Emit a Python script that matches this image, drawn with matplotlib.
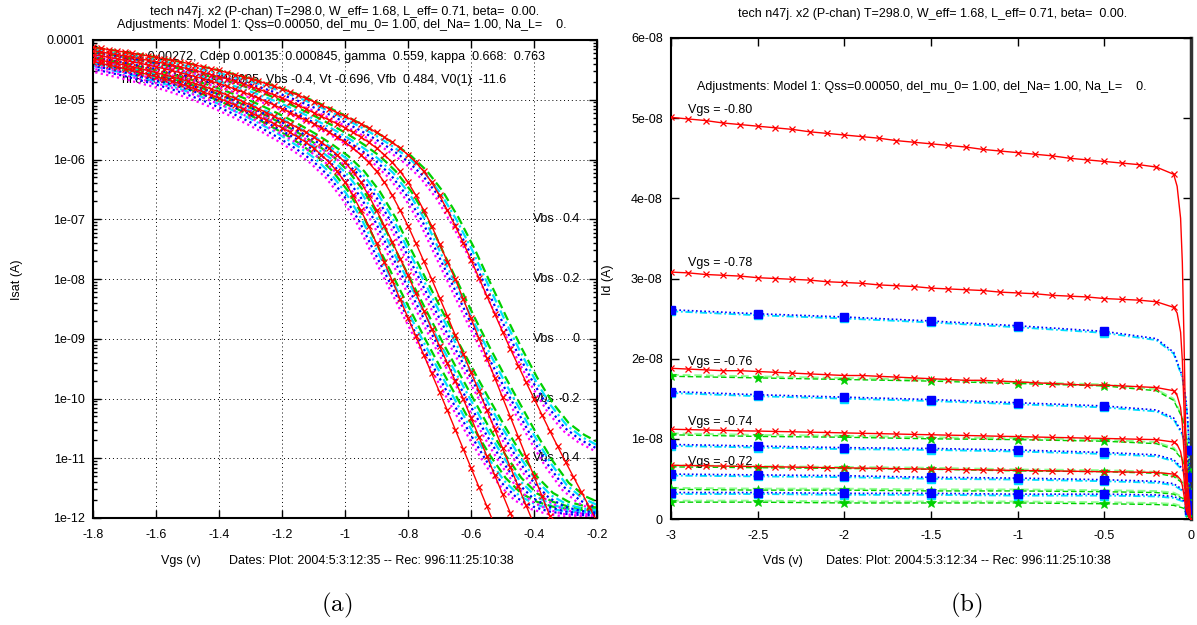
import numpy as np
import matplotlib
matplotlib.use("Agg")
import matplotlib.pyplot as plt
from matplotlib.ticker import FixedLocator, FixedFormatter, NullFormatter
import matplotlib.transforms as mtransforms

plt.rcParams['font.family'] = ['Liberation Sans', 'DejaVu Sans']
plt.rcParams['mathtext.fontset'] = 'cm'

W, H = 1197, 625

# ------------------------------------------------------------------ panel (a) data
vgs_fit = np.linspace(-1.8, -0.2, 65)     # model sweep, 25 mV steps
vgs_meas = np.linspace(-1.8, -0.2, 33)    # measured sweep, 50 mV steps

# log10(Isat) of the model curves (red), one per Vbs
fit_a4 = [-4.120,-4.140,-4.160,-4.180,-4.200,-4.222,-4.245,-4.267,-4.290,-4.315,
          -4.340,-4.365,-4.390,-4.420,-4.450,-4.480,-4.510,-4.545,-4.580,-4.615,
          -4.650,-4.690,-4.730,-4.775,-4.820,-4.870,-4.920,-4.975,-5.030,-5.090,
          -5.150,-5.215,-5.280,-5.340,-5.400,-5.470,-5.545,-5.625,-5.710,-5.810,
          -5.920,-6.050,-6.200,-6.380,-6.600,-6.850,-7.110,-7.390,-7.680,-7.980,
          -8.280,-8.580,-8.880,-9.170,-9.450,-9.730,-10.000,-10.270,-10.540,-10.800,
          -11.060,-11.310,-11.560,-11.810,-12.060]
fit_a3 = [-4.180,-4.200,-4.222,-4.245,-4.267,-4.290,-4.315,-4.340,-4.365,-4.390,
          -4.420,-4.450,-4.480,-4.510,-4.545,-4.580,-4.615,-4.650,-4.690,-4.730,
          -4.775,-4.820,-4.870,-4.920,-4.975,-5.030,-5.090,-5.150,-5.215,-5.280,
          -5.340,-5.400,-5.470,-5.545,-5.625,-5.710,-5.810,-5.920,-6.050,-6.200,
          -6.380,-6.600,-6.850,-7.110,-7.410,-7.710,-8.000,-8.330,-8.660,-8.990,
          -9.320,-9.650,-9.980,-10.310,-10.640,-10.970,-11.300,-11.630,-11.960,-12.290]
fit_a2 = [-4.245,-4.267,-4.290,-4.315,-4.340,-4.365,-4.390,-4.420,-4.450,-4.480,
          -4.510,-4.545,-4.580,-4.615,-4.650,-4.690,-4.730,-4.775,-4.820,-4.870,
          -4.920,-4.975,-5.030,-5.090,-5.150,-5.215,-5.280,-5.340,-5.400,-5.470,
          -5.545,-5.625,-5.710,-5.810,-5.920,-6.050,-6.200,-6.380,-6.600,-6.850,
          -7.110,-7.400,-7.700,-8.000,-8.310,-8.620,-8.940,-9.250,-9.560,-9.870,
          -10.190,-10.510,-10.830,-11.150,-11.470,-11.790,-12.110]
fit_a1 = [-4.315,-4.340,-4.365,-4.390,-4.420,-4.450,-4.480,-4.510,-4.545,-4.580,
          -4.615,-4.650,-4.690,-4.730,-4.775,-4.820,-4.870,-4.920,-4.975,-5.030,
          -5.090,-5.150,-5.215,-5.280,-5.340,-5.400,-5.470,-5.545,-5.625,-5.710,
          -5.810,-5.920,-6.050,-6.200,-6.380,-6.600,-6.850,-7.110,-7.380,-7.660,
          -7.940,-8.240,-8.530,-8.830,-9.120,-9.410,-9.710,-10.000,-10.320,-10.640,
          -10.960,-11.280,-11.600,-11.920,-12.240]
fit_a0 = [-4.365,-4.390,-4.420,-4.450,-4.480,-4.510,-4.545,-4.580,-4.615,-4.650,
          -4.690,-4.730,-4.775,-4.820,-4.870,-4.920,-4.975,-5.030,-5.090,-5.150,
          -5.215,-5.280,-5.340,-5.400,-5.470,-5.545,-5.625,-5.710,-5.810,-5.920,
          -6.050,-6.200,-6.380,-6.600,-6.850,-7.110,-7.400,-7.720,-8.030,-8.340,
          -8.650,-8.960,-9.270,-9.580,-9.890,-10.200,-10.520,-10.840,-11.160,-11.480,
          -11.800,-12.120]

# log10(Isat) of the measured bundles, one per Vbs
meas_a4 = [-4.20,-4.24,-4.28,-4.32,-4.37,-4.42,-4.47,-4.53,-4.59,-4.66,-4.73,-4.81,-4.90,
           -5.00,-5.11,-5.23,-5.36,-5.50,-5.65,-5.82,-6.01,-6.26,-6.60,-7.04,-7.55,-8.12,
           -8.68,-9.22,-9.72,-10.15,-10.48,-10.68,-10.82]
meas_a3 = [-4.28,-4.32,-4.37,-4.42,-4.47,-4.53,-4.59,-4.66,-4.73,-4.81,-4.90,-5.00,-5.11,
           -5.23,-5.36,-5.50,-5.65,-5.82,-6.01,-6.26,-6.60,-7.04,-7.60,-8.15,-8.70,-9.22,
           -9.72,-10.20,-10.68,-11.12,-11.48,-11.70,-11.82]
meas_a2 = [-4.37,-4.42,-4.47,-4.53,-4.59,-4.66,-4.73,-4.81,-4.90,-5.00,-5.11,-5.23,-5.36,
           -5.50,-5.65,-5.82,-6.01,-6.26,-6.60,-7.04,-7.58,-8.10,-8.62,-9.13,-9.62,-10.10,
           -10.56,-11.00,-11.38,-11.65,-11.80,-11.87,-11.90]
meas_a1 = [-4.42,-4.47,-4.53,-4.59,-4.66,-4.73,-4.81,-4.90,-5.00,-5.11,-5.23,-5.36,-5.50,
           -5.65,-5.82,-6.01,-6.26,-6.60,-7.04,-7.58,-8.10,-8.62,-9.13,-9.62,-10.10,-10.58,
           -11.02,-11.40,-11.66,-11.80,-11.88,-11.91,-11.93]
meas_a0 = [-4.47,-4.53,-4.59,-4.66,-4.73,-4.81,-4.90,-5.00,-5.11,-5.23,-5.36,-5.50,-5.65,
           -5.82,-6.01,-6.26,-6.60,-7.04,-7.58,-8.10,-8.62,-9.13,-9.62,-10.10,-10.58,-11.02,
           -11.40,-11.66,-11.80,-11.88,-11.92,-11.94,-11.95]

# four measured devices per bundle: small Vgs shift and log offset
dev_names = ['green', 'cyan', 'blue', 'magenta']
dev_dvgs = [0.010, 0.004, -0.003, -0.010]
dev_dlog = [0.07, 0.03, -0.01, -0.05]

vbs_labels = ['0.4', '0.2', '0', '-0.2', '-0.4']
vbs_label_y = [1e-7, 1e-8, 1e-9, 1e-10, 1e-11]

xt_a = [-1.8, -1.6, -1.4, -1.2, -1.0, -0.8, -0.6, -0.4, -0.2]
xt_a_lab = ['-1.8', '-1.6', '-1.4', '-1.2', '-1', '-0.8', '-0.6', '-0.4', '-0.2']
yt_a = [1e-12, 1e-11, 1e-10, 1e-9, 1e-8, 1e-7, 1e-6, 1e-5, 1e-4]
yt_a_lab = ['1e-12', '1e-11', '1e-10', '1e-09', '1e-08', '1e-07', '1e-06', '1e-05', '0.0001']

# ------------------------------------------------------------------ panel (b) data
vds_fit = [-3.0,-2.9,-2.8,-2.7,-2.6,-2.5,-2.4,-2.3,-2.2,-2.1,-2.0,-1.9,-1.8,-1.7,-1.6,
           -1.5,-1.4,-1.3,-1.2,-1.1,-1.0,-0.9,-0.8,-0.7,-0.6,-0.5,-0.4,-0.3,-0.2,-0.1,
           -0.08,-0.06,-0.05,-0.04,-0.03,-0.02,0.0]
fit_mark = list(range(30)) + [36]
# Id model (units of 1e-8 A)
fit_b080 = [5.01,4.99,4.97,4.94,4.92,4.90,4.88,4.86,4.83,4.81,4.79,4.77,4.75,4.72,4.70,
            4.68,4.66,4.64,4.61,4.59,4.57,4.55,4.53,4.50,4.48,4.46,4.44,4.42,4.39,4.30,
            4.15,3.75,3.20,2.20,1.00,0.45,0.0]
fit_b078 = [3.08,3.07,3.05,3.04,3.03,3.01,3.00,2.99,2.98,2.96,2.95,2.94,2.92,2.91,2.90,
            2.88,2.87,2.86,2.85,2.83,2.82,2.81,2.79,2.78,2.77,2.75,2.74,2.73,2.71,2.64,
            2.57,2.33,1.98,1.36,0.62,0.28,0.0]
fit_b076 = [1.88,1.87,1.86,1.85,1.85,1.84,1.83,1.82,1.81,1.80,1.79,1.79,1.78,1.77,1.76,
            1.75,1.74,1.73,1.73,1.72,1.71,1.70,1.69,1.68,1.67,1.67,1.66,1.65,1.64,1.60,
            1.54,1.39,1.18,0.81,0.37,0.17,0.0]
fit_b074 = [1.12,1.115,1.11,1.106,1.10,1.097,1.092,1.088,1.083,1.079,1.074,1.069,1.065,1.06,1.055,
            1.051,1.046,1.042,1.037,1.032,1.028,1.023,1.018,1.014,1.009,1.005,1.0,0.995,0.99,0.96,
            0.93,0.84,0.72,0.50,0.22,0.10,0.0]
fit_b072 = [0.67,0.667,0.664,0.66,0.657,0.654,0.651,0.648,0.644,0.641,0.638,0.635,0.632,0.628,0.625,
            0.622,0.619,0.616,0.612,0.609,0.606,0.603,0.60,0.596,0.593,0.59,0.587,0.584,0.58,0.56,
            0.54,0.49,0.42,0.29,0.13,0.06,0.0]
vgs_b_labels = ['Vgs = -0.80', 'Vgs = -0.78', 'Vgs = -0.76', 'Vgs = -0.74', 'Vgs = -0.72']
vgs_b_label_y = [5.10, 3.19, 1.96, 1.21, 0.71]

vds_meas = [-3.0,-2.5,-2.0,-1.5,-1.0,-0.5,-0.2,-0.1,-0.05,-0.03,-0.02,-0.01,0.0]
meas_mark = [0, 1, 2, 3, 4, 5, 11]
blue_b1 = [2.61,2.56,2.52,2.47,2.41,2.34,2.25,2.08,1.78,1.50,1.27,0.86,0.0]
blue_b2 = [1.59,1.55,1.52,1.49,1.45,1.41,1.36,1.26,1.07,0.90,0.76,0.52,0.0]
blue_b3 = [0.93,0.91,0.89,0.88,0.86,0.83,0.80,0.74,0.63,0.53,0.45,0.31,0.0]
blue_b4 = [0.56,0.55,0.54,0.52,0.51,0.49,0.47,0.44,0.37,0.31,0.27,0.18,0.0]
blue_b5 = [0.33,0.33,0.32,0.32,0.31,0.31,0.30,0.28,0.24,0.20,0.17,0.11,0.0]
green_b1 = [1.78,1.76,1.74,1.72,1.69,1.66,1.60,1.48,1.26,1.06,0.90,0.61,0.0]
green_b2 = [1.05,1.03,1.02,1.00,0.99,0.97,0.94,0.87,0.74,0.62,0.53,0.36,0.0]
green_b3 = [0.65,0.64,0.63,0.62,0.60,0.59,0.57,0.53,0.45,0.38,0.32,0.22,0.0]
green_b4 = [0.37,0.36,0.36,0.35,0.35,0.34,0.33,0.31,0.26,0.22,0.19,0.13,0.0]
green_b5 = [0.21,0.21,0.20,0.20,0.20,0.19,0.18,0.17,0.14,0.12,0.10,0.07,0.0]

xt_b = [-3, -2.5, -2, -1.5, -1, -0.5, 0]
xt_b_lab = ['-3', '-2.5', '-2', '-1.5', '-1', '-0.5', '0']
yt_b = [0, 1e-8, 2e-8, 3e-8, 4e-8, 5e-8, 6e-8]
yt_b_lab = ['0', '1e-08', '2e-08', '3e-08', '4e-08', '5e-08', '6e-08']

# ------------------------------------------------------------------ figure
fig = plt.figure(figsize=(W / 100, H / 100), dpi=100)

def fpos(l, t, r, b):
    return [l / W, 1 - b / H, (r - l) / W, (b - t) / H]

def ftext(x, y, s, **kw):
    fig.text(x / W, 1 - y / H, s, **kw)

FS = 9
RED = '#ff0000'
GREEN = '#00d000'
BLUE = '#0000ff'
CYAN = '#00e0ff'
MAG = '#ff00ff'
dev_colors = {'green': GREEN, 'cyan': CYAN, 'blue': BLUE, 'magenta': MAG}
dev_styles = {'green': (0, (4, 2)), 'cyan': (0, (4, 1.5, 1, 1.5)),
              'blue': (0, (1, 1.5)), 'magenta': (0, (1, 1.5))}

# ---------------- (a)
ax = fig.add_axes(fpos(93, 40, 597, 518))
ax.set_yscale('log')
ax.set_xlim(-1.8, -0.2)
ax.set_ylim(1e-12, 1e-4)

for b in [meas_a0, meas_a1, meas_a2, meas_a3, meas_a4]:
    for name, dv, dl in zip(dev_names, dev_dvgs, dev_dlog):
        ax.plot(vgs_meas + dv, 10 ** (np.array(b) + dl), color=dev_colors[name],
                ls=dev_styles[name], lw=1.6, zorder=2)
for r in [fit_a0, fit_a1, fit_a2, fit_a3, fit_a4]:
    ax.plot(vgs_fit[:len(r)], 10 ** np.array(r), color=RED, lw=1.0, marker='x',
            ms=5, mew=0.9, zorder=3)

ax.xaxis.set_major_locator(FixedLocator(xt_a))
ax.xaxis.set_major_formatter(FixedFormatter(xt_a_lab))
ax.yaxis.set_major_locator(FixedLocator(yt_a))
ax.yaxis.set_major_formatter(FixedFormatter(yt_a_lab))
minor = [m * 10.0 ** e for e in range(-12, -4) for m in range(2, 10)]
ax.yaxis.set_minor_locator(FixedLocator(minor))
ax.yaxis.set_minor_formatter(NullFormatter())
ax.xaxis.set_minor_locator(FixedLocator([]))
ax.tick_params(which='both', direction='in', top=True, right=True, labelsize=FS, width=1)
ax.tick_params(which='major', length=6)
ax.tick_params(which='minor', length=3)
ax.tick_params(axis='x', pad=8)
ax.tick_params(axis='y', pad=6)
ax.grid(True, which='major', color='black', ls=(0, (1, 3)), lw=0.7)
for sp in ax.spines.values():
    sp.set_linewidth(1.5)

for lab, yv in zip(vbs_labels, vbs_label_y):
    ax.text(-0.403, yv, 'Vbs', fontsize=FS, ha='left', va='center', zorder=1)
    ax.text(-0.254, yv, lab, fontsize=FS, ha='right', va='center', zorder=1)

ax.text((122 - 93) / 504, 1 - (57 - 40) / 478,
        'Cox 0.00272, Cdep 0.00135: 0.000845, gamma  0.559, kappa  0.668:  0.763',
        transform=ax.transAxes, fontsize=FS, ha='left', va='center', zorder=1)
ax.text((122 - 93) / 504, 1 - (80 - 40) / 478,
        'nl 8.40e+14, Qss 0.0005, Vbs -0.4, Vt -0.696, Vfb  0.484, V0(1)  -11.6',
        transform=ax.transAxes, fontsize=FS, ha='left', va='center', zorder=1)

ftext(345, 12, 'tech n47j. x2 (P-chan) T=298.0, W_eff= 1.68, L_eff= 0.71, beta=  0.00.',
      fontsize=FS, ha='center', va='center')
ftext(342, 25, 'Adjustments: Model 1: Qss=0.00050, del_mu_0= 1.00, del_Na= 1.00, Na_L=    0.',
      fontsize=FS, ha='center', va='center')
ftext(17, 280, 'Isat (A)', fontsize=FS, ha='center', va='center', rotation=90)
ftext(161, 561, 'Vgs (v)', fontsize=FS, ha='left', va='center')
ftext(229, 561, 'Dates: Plot: 2004:5:3:12:35 -- Rec: 996:11:25:10:38', fontsize=FS,
      ha='left', va='center')
ftext(337, 605, r'$\mathrm{(a)}$', fontsize=18, ha='center', va='center')

# ---------------- (b)
bx = fig.add_axes(fpos(671, 38, 1191, 519))
bx.set_xlim(-3, 0)
bx.set_ylim(0, 6e-8)
shadow = mtransforms.offset_copy(bx.transData, fig=fig, x=0, y=-1.5, units='dots')
gshadow = mtransforms.offset_copy(bx.transData, fig=fig, x=0, y=1.5, units='dots')
vm = np.array(vds_meas)
for g in [green_b1, green_b2, green_b3, green_b4, green_b5]:
    gv = np.array(g) * 1e-8
    bx.plot(vm, gv, color='#90ff90', ls=(0, (4, 2)), lw=1.4, transform=gshadow, zorder=2)
    bx.plot(vm, gv, color=GREEN, ls=(0, (4, 2)), lw=1.0, marker='*', ms=7, mew=0.5,
            markevery=meas_mark, zorder=3)
for bl in [blue_b1, blue_b2, blue_b3, blue_b4, blue_b5]:
    bv = np.array(bl) * 1e-8
    bx.plot(vm, bv, color=CYAN, ls=(0, (4, 1.5, 1, 1.5)), lw=1.3, marker='s', ms=6,
            mec=CYAN, mfc=CYAN, markevery=meas_mark, transform=shadow, zorder=2)
    bx.plot(vm, bv, color=BLUE, ls=(0, (1, 1.5)), lw=1.2, marker='s', ms=6,
            mec=BLUE, mfc=BLUE, markevery=meas_mark, zorder=3)
for f in [fit_b080, fit_b078, fit_b076, fit_b074, fit_b072]:
    bx.plot(vds_fit, np.array(f) * 1e-8, color=RED, lw=1.0, marker='x', ms=5, mew=0.9,
            markevery=fit_mark, zorder=4)

for lab, yv in zip(vgs_b_labels, vgs_b_label_y):
    bx.text(-2.9, yv * 1e-8, lab, fontsize=FS, ha='left', va='center')
bx.text(-2.85, 5.39e-8, 'Adjustments: Model 1: Qss=0.00050, del_mu_0= 1.00, del_Na= 1.00, Na_L=    0.',
        fontsize=FS, ha='left', va='center')

bx.xaxis.set_major_locator(FixedLocator(xt_b))
bx.xaxis.set_major_formatter(FixedFormatter(xt_b_lab))
bx.yaxis.set_major_locator(FixedLocator(yt_b))
bx.yaxis.set_major_formatter(FixedFormatter(yt_b_lab))
bx.tick_params(which='both', direction='in', top=True, right=True, labelsize=FS, width=1)
bx.tick_params(which='major', length=6)
bx.tick_params(axis='x', pad=8)
bx.tick_params(axis='y', pad=6)
for sp in bx.spines.values():
    sp.set_linewidth(1.5)
bx.spines['right'].set_color('#333333')
bx.spines['right'].set_linewidth(2.5)

ftext(933, 14, 'tech n47j. x2 (P-chan) T=298.0, W_eff= 1.68, L_eff= 0.71, beta=  0.00.',
      fontsize=FS, ha='center', va='center')
ftext(608, 280, 'Id (A)', fontsize=FS, ha='center', va='center', rotation=90)
ftext(763, 561, 'Vds (v)', fontsize=FS, ha='left', va='center')
ftext(826, 561, 'Dates: Plot: 2004:5:3:12:34 -- Rec: 996:11:25:10:38', fontsize=FS,
      ha='left', va='center')
ftext(966, 605, r'$\mathrm{(b)}$', fontsize=18, ha='center', va='center')

fig.savefig('out.png', dpi=100, facecolor='white')
